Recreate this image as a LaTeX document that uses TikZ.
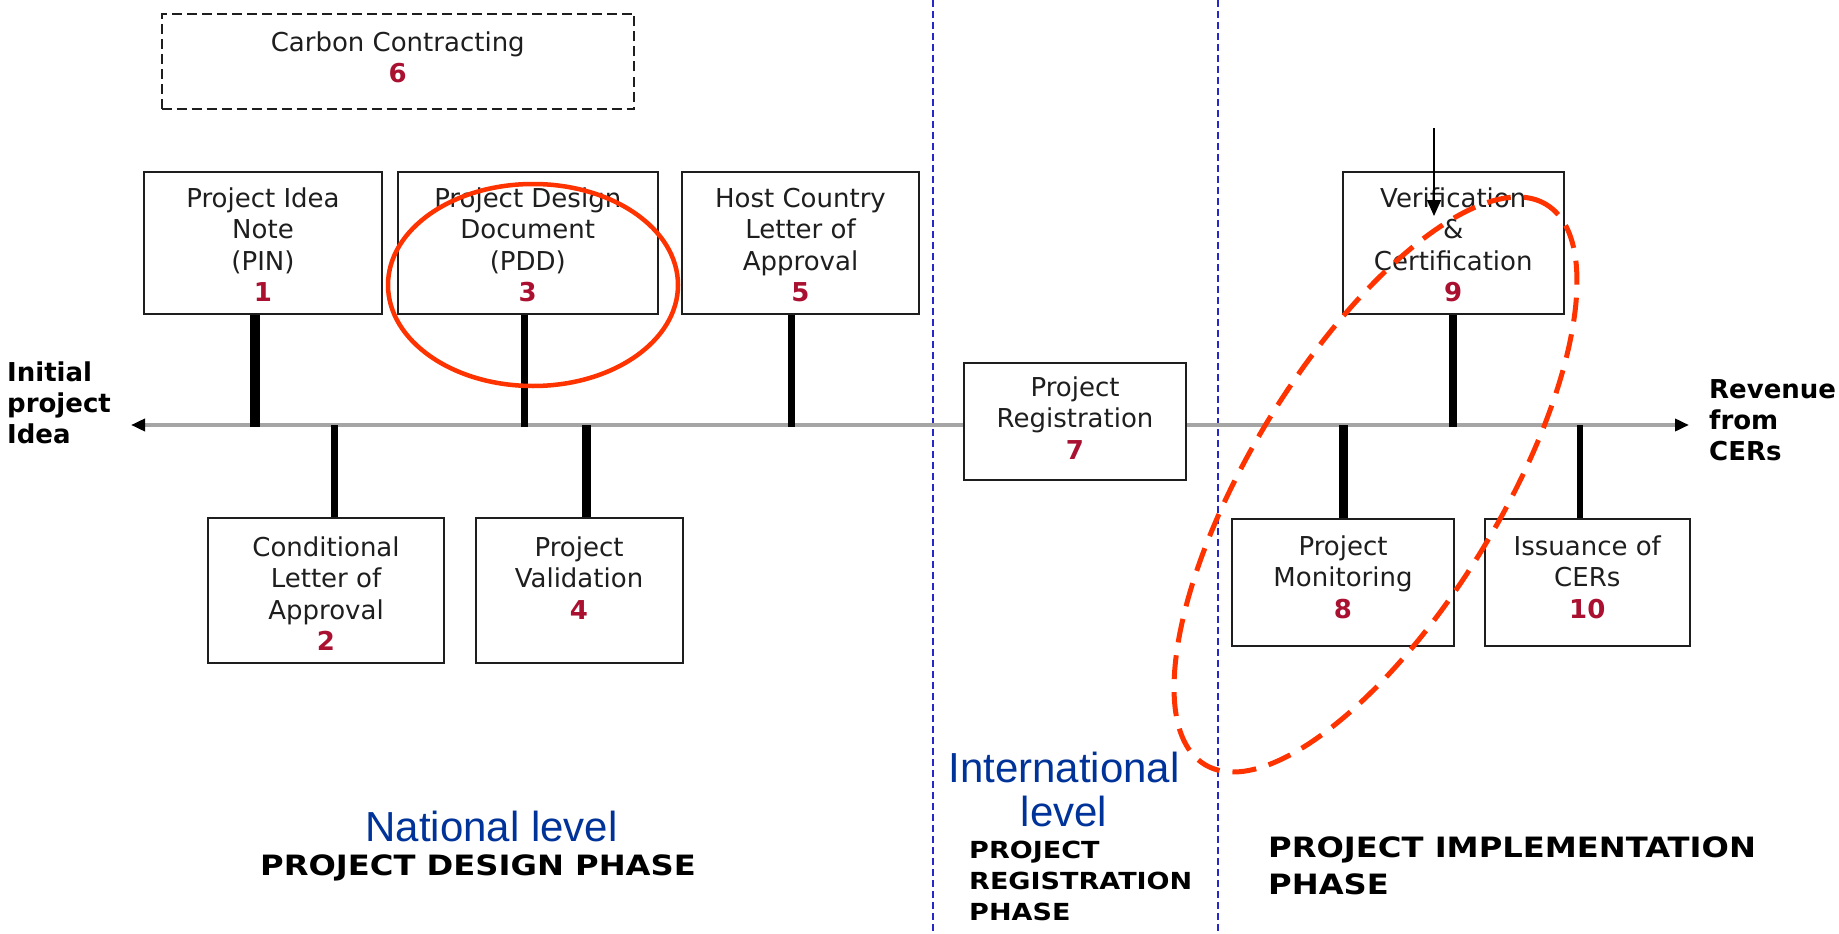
\documentclass[tikz,border=0pt]{standalone}
\usepackage{fontspec}
\setmainfont{DejaVu Sans}
\newfontfamily\levelfont{Liberation Sans}
\newfontfamily\phasefont[FakeStretch=1.15]{DejaVu Sans}
\usetikzlibrary{arrows.meta}

\definecolor{numred}{RGB}{170,16,48}
\definecolor{markred}{RGB}{255,51,0}
\definecolor{levelblue}{RGB}{0,51,153}
\definecolor{sepblue}{RGB}{40,40,200}
\definecolor{axisgray}{RGB}{165,165,165}
\definecolor{boxline}{RGB}{30,30,30}
\definecolor{boxink}{RGB}{30,30,30}

\newcommand\stepnum[1]{\textcolor{numred}{\bfseries #1}}
\newcommand\firstrow{\rule{0pt}{20pt}}

\tikzset{
  stepbox/.style={draw=boxline, line width=2pt, fill=white, inner sep=0pt},
  carbonbox/.style={stepbox, dash pattern=on 10pt off 5pt},
  boxtext/.style={anchor=north, inner sep=0pt, align=center, text=boxink,
    font=\fontsize{26}{31.5}\selectfont},
  stem/.style={draw=black, line width=#1},
  axisline/.style={draw=axisgray, line width=4pt,
    {Triangle[length=14pt,width=12pt,color=black]}-{Triangle[length=14pt,width=12pt,color=black]}},
  sepline/.style={draw=sepblue, line width=2pt, dash pattern=on 7pt off 4pt},
  sidelabel/.style={anchor=north west, inner sep=0pt, align=left,
    font=\bfseries\fontsize{26}{31}\selectfont},
  levellabel/.style={inner sep=0pt, text=levelblue, align=center,
    font=\levelfont\fontsize{42}{44}\selectfont},
  phaselabel/.style={inner sep=0pt, font=\phasefont\bfseries}
}

\begin{document}
\begin{tikzpicture}[x=1pt,y=-1pt]
\fill[white] (0,0) rectangle (1839,934);
\useasboundingbox (0,0) rectangle (1839,934);

% phase separators
\coordinate (sepAtop) at (932.5,0);
\coordinate (sepAbot) at (932.5,934);
\coordinate (sepBtop) at (1218,0);
\coordinate (sepBbot) at (1218,934);
\draw[sepline] (sepAtop) -- (sepAbot);
\draw[sepline] (sepBtop) -- (sepBbot);

% time axis
\coordinate (axisL) at (131,425);
\coordinate (axisR) at (1689,425);
\draw[axisline] (axisL) -- (axisR);

% steps above the axis
\node[carbonbox, minimum width=472.5pt, minimum height=95pt] (carbon) at (397.75,61.5) {};
\node[stepbox, minimum width=238pt, minimum height=142pt] (pin) at (263,243) {};
\node[stepbox, minimum width=260.5pt, minimum height=142pt] (pdd) at (527.75,243) {};
\node[stepbox, minimum width=237pt, minimum height=142pt] (host) at (800.5,243) {};
\node[stepbox, minimum width=220.5pt, minimum height=142pt] (ver) at (1453.25,243) {};

% steps below the axis
\node[stepbox, minimum width=236pt, minimum height=145pt] (cond) at (326,590.5) {};
\node[stepbox, minimum width=207pt, minimum height=145pt] (val) at (579,590.5) {};
\node[stepbox, minimum width=222pt, minimum height=126.5pt] (mon) at (1343,582.25) {};
\node[stepbox, minimum width=205.5pt, minimum height=126.5pt] (iss) at (1587.25,582.25) {};

% stems joining the steps to the axis
\draw[stem=10pt] ([xshift=-8pt]pin.south) -- ([xshift=-8pt,yshift=-2pt]pin.south |- axisL);
\draw[stem=7pt] ([xshift=-3pt]pdd.south) -- ([xshift=-3pt,yshift=-2pt]pdd.south |- axisL);
\draw[stem=7pt] ([xshift=-9pt]host.south) -- ([xshift=-9pt,yshift=-2pt]host.south |- axisL);
\draw[stem=8pt] (ver.south) -- ([yshift=-2pt]ver.south |- axisL);
\draw[stem=7pt] ([xshift=8pt]cond.north |- axisL) -- ([xshift=8pt]cond.north);
\draw[stem=9pt] ([xshift=7pt]val.north |- axisL) -- ([xshift=7pt]val.north);
\draw[stem=9pt] (mon.north |- axisL) -- (mon.north);
\draw[stem=6pt] ([xshift=-7pt]iss.north |- axisL) -- ([xshift=-7pt]iss.north);

% registration sits on the axis
\node[stepbox, minimum width=222pt, minimum height=117pt] (reg) at (1075,421.5) {};

% step texts
\node[boxtext] (carbonText) at ([yshift=-18pt]carbon.north) {\firstrow Carbon Contracting\\\stepnum{6}};
\node[boxtext] (pinText) at ([yshift=-16pt]pin.north) {\firstrow Project Idea\\Note\\(PIN)\\\stepnum{1}};
\node[boxtext] (pddText) at ([yshift=-16pt]pdd.north) {\firstrow Project Design\\Document\\(PDD)\\\stepnum{3}};
\node[boxtext] (hostText) at ([yshift=-16pt]host.north) {\firstrow Host Country\\Letter of\\Approval\\\stepnum{5}};
\node[boxtext] (verText) at ([yshift=-16pt]ver.north) {\firstrow Verification\\\&\\Certification\\\stepnum{9}};
\node[boxtext] (condText) at ([yshift=-19pt]cond.north) {\firstrow Conditional\\Letter of\\Approval\\\stepnum{2}};
\node[boxtext] (valText) at ([yshift=-19pt]val.north) {\firstrow Project\\Validation\\\stepnum{4}};
\node[boxtext] (monText) at ([yshift=-17pt]mon.north) {\firstrow Project\\Monitoring\\\stepnum{8}};
\node[boxtext] (issText) at ([yshift=-17pt]iss.north) {\firstrow Issuance of\\CERs\\\stepnum{10}};
\node[boxtext] (regText) at ([yshift=-14pt]reg.north) {\firstrow Project\\Registration\\\stepnum{7}};

% axis end labels
\node[sidelabel] (initial) at (7,361) {\firstrow Initial\\project\\Idea};
\node[sidelabel] (revenue) at (1709,378) {\firstrow Revenue\\from\\CERs};

% level and phase labels
\node[levellabel, anchor=base] (natLevel) at (491.5,841) {National level};
\node[phaselabel, anchor=base, font=\phasefont\bfseries\fontsize{28}{34}\selectfont] (designPhase) at (478,875) {PROJECT DESIGN PHASE};
\node[levellabel, anchor=north] (intLevel) at (1064,751) {\rule{0pt}{31pt}International\\level};
\node[phaselabel, anchor=north west, align=left, font=\phasefont\bfseries\fontsize{23.5}{31.3}\selectfont] (regPhase) at (969,840.5) {\rule{0pt}{17.5pt}PROJECT\\REGISTRATION\\PHASE};
\node[phaselabel, anchor=north west, align=left, font=\phasefont\bfseries\fontsize{28}{37}\selectfont] (implPhase) at (1268,837) {\rule{0pt}{20.5pt}PROJECT IMPLEMENTATION\\PHASE};

% highlight marks
\draw[markred, line width=4.5pt] (533,285) ellipse [x radius=145pt, y radius=101pt];
\draw[markred, line width=5pt, dash pattern=on 24pt off 13pt, rotate around={58.6:(1375.5,484.5)}]
  (1375.5,484.5) ellipse [x radius=328pt, y radius=125pt];

% pointer onto verification
\coordinate (pointerTail) at (1434,128);
\coordinate (pointerTip) at (1434,216);
\draw[line width=1.5pt, -{Triangle[length=16pt,width=14pt]}] (pointerTail) -- (pointerTip);
\end{tikzpicture}
\end{document}
